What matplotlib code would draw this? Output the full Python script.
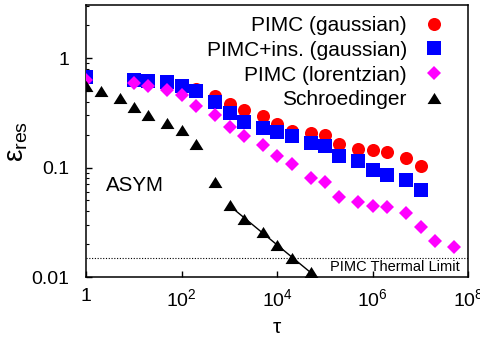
import numpy as np
import matplotlib
matplotlib.use("Agg")
import matplotlib.pyplot as plt
from matplotlib.ticker import FixedLocator, FuncFormatter, LogLocator, NullLocator
import matplotlib.transforms as mtransforms

plt.rcParams['font.family'] = ['Liberation Sans', 'DejaVu Sans']
plt.rcParams['mathtext.fontset'] = 'custom'
plt.rcParams['mathtext.rm'] = 'Liberation Sans'
plt.rcParams['mathtext.it'] = 'Liberation Sans:italic'
plt.rcParams['mathtext.default'] = 'regular'

# ---- data ----
tau_red = [2e2, 5e2, 1e3, 2e3, 5e3, 1e4, 2e4, 5e4, 1e5, 2e5, 5e5, 1e6, 2e6, 5e6, 1e7]
eps_red = [0.52, 0.446, 0.38, 0.336, 0.297, 0.25, 0.216, 0.206, 0.198, 0.165, 0.148, 0.145, 0.14, 0.122, 0.103]

tau_blue = [1, 10, 20, 50, 1e2, 2e2, 5e2, 1e3, 2e3, 5e3, 1e4, 2e4, 5e4, 1e5, 2e5, 5e5, 1e6, 2e6, 5e6, 1e7]
eps_blue = [0.67, 0.634, 0.62, 0.61, 0.56, 0.50, 0.40, 0.314, 0.258, 0.229, 0.209, 0.195, 0.169, 0.158,
            0.128, 0.114, 0.094, 0.086, 0.077, 0.0625]

tau_mag = [1, 10, 20, 50, 1e2, 2e2, 5e2, 1e3, 2e3, 5e3, 1e4, 2e4, 5e4, 1e5, 2e5, 5e5, 1e6, 2e6, 5e6, 1e7, 2e7, 5e7]
eps_mag = [0.635, 0.59, 0.56, 0.51, 0.456, 0.366, 0.303, 0.234, 0.192, 0.159, 0.128, 0.108, 0.080, 0.073,
           0.0536, 0.0489, 0.0449, 0.0434, 0.0382, 0.0289, 0.0215, 0.0187]

tau_sch = [1, 2, 5, 10, 20, 50, 1e2, 2e2, 5e2, 1e3, 2e3, 5e3, 1e4, 2e4, 5e4]
eps_sch = [0.56, 0.50, 0.43, 0.36, 0.30, 0.254, 0.22, 0.165, 0.0745, 0.045, 0.034, 0.026, 0.0196, 0.015, 0.011]

fit_start = 1e3
fit_end = 1e5
thermal_limit = 0.015

labels = ['PIMC (gaussian)', 'PIMC+ins. (gaussian)', 'PIMC (lorentzian)', 'Schroedinger']
xticks = [1, 1e2, 1e4, 1e6, 1e8]

# ---- figure ----
fig = plt.figure(figsize=(4.81, 3.38), dpi=100)
ax = fig.add_axes([86.3/481, (338-277)/338, (468.3-86.3)/481, (277-5)/338])
ax.set_xscale('log')
ax.set_yscale('log')
ax.set_xlim(1, 1e8)
ax.set_ylim(0.01, 3.05)

fs_tick = 14
fs_leg = 15
tri = [(-1, -0.8), (1, -0.8), (0, 0.8)]

ax.plot(tau_red, eps_red, 'o', color='#ff0000', ms=9.4, mew=0, label=labels[0], zorder=3)
ax.plot(tau_blue, eps_blue, 's', color='#0000ff', ms=9.6, mew=0, label=labels[1], zorder=4)
ax.plot(tau_mag, eps_mag, 'D', color='#ff00ff', ms=7.0, mew=0, label=labels[2], zorder=5)
ax.plot(tau_sch, eps_sch, marker=tri, ls='none', color='black', ms=10, mew=0, label=labels[3], zorder=6)

# power-law fit of Schroedinger tail
tx = np.array(tau_sch)
ty = np.array(eps_sch)
m = tx >= fit_start
p = np.polyfit(np.log10(tx[m]), np.log10(ty[m]), 1)
xf = np.logspace(np.log10(fit_start), np.log10(fit_end), 50)
ax.plot(xf, 10**np.polyval(p, np.log10(xf)), '-', color='black', lw=1.0, zorder=6)

# thermal limit
ax.axhline(thermal_limit, color='black', lw=0.8, ls=(0, (1, 1.5)), zorder=2)
trans = mtransforms.blended_transform_factory(ax.transAxes, ax.transData)
ax.text(0.978, thermal_limit * 0.96, 'PIMC Thermal Limit', transform=trans,
        ha='right', va='top', fontsize=10.5)

ax.text(2.6, 0.069, 'ASYM', fontsize=14.8, ha='left', va='center')

# ticks
ax.xaxis.set_major_locator(FixedLocator(xticks))
ax.xaxis.set_minor_locator(NullLocator())
def xfmt(v, pos):
    e = int(round(np.log10(v)))
    return '1' if e == 0 else r'$10^{%d}$' % e
ax.xaxis.set_major_formatter(FuncFormatter(xfmt))
ax.yaxis.set_major_locator(FixedLocator([0.01, 0.1, 1]))
ax.yaxis.set_major_formatter(FuncFormatter(lambda v, pos: {0.01: '0.01', 0.1: '0.1', 1: '1'}.get(round(v, 3), '')))
ax.yaxis.set_minor_locator(LogLocator(base=10, subs=np.arange(2, 10), numticks=20))
ax.yaxis.set_minor_formatter(FuncFormatter(lambda v, pos: ''))
ax.tick_params(axis='both', which='major', direction='in', length=4, width=1.0, labelsize=fs_tick,
               top=False, right=False)
ax.tick_params(axis='y', which='minor', direction='in', length=2.2, width=0.8, right=False)
ax.tick_params(axis='x', pad=8)
ax.tick_params(axis='y', pad=12.5)
for s in ax.spines.values():
    s.set_linewidth(1.1)

ax.set_xlabel('τ', fontsize=15, labelpad=6)
ax.set_ylabel(r'$\epsilon_{res}$', fontsize=20)
ax.yaxis.set_label_coords(-0.148, 0.5)

leg = ax.legend(loc='upper right', frameon=False, markerfirst=False, fontsize=fs_leg,
                handlelength=1.0, handletextpad=0.8, labelspacing=0.28,
                borderaxespad=0.2, bbox_to_anchor=(0.97, 1.006))

fig.savefig('out.png', dpi=100)
